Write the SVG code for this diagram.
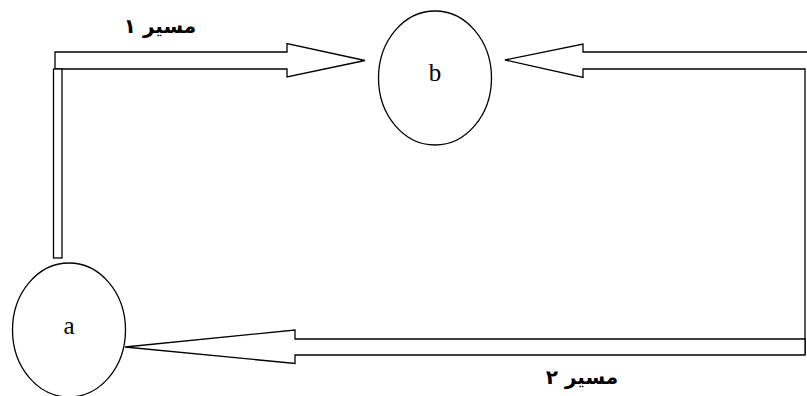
<svg xmlns="http://www.w3.org/2000/svg" width="807" height="396" viewBox="0 0 807 396">
<style>
.node{fill:#fff;stroke:#000;stroke-width:1.3}
.conn{fill:#fff;stroke:#000;stroke-width:1.3;stroke-linejoin:miter}
.lbl{font-family:"Liberation Serif",serif;font-size:25px;fill:#000;text-anchor:middle}
.fa{font-family:"DejaVu Sans","Noto Sans",sans-serif;font-weight:bold;font-size:20px;fill:#000;text-anchor:middle}
</style>
<rect width="807" height="396" fill="#fff"/>
<g id="connectors">
<path class="conn" d="M55,52 H287 V43.5 L365,60.5 L287,77 V69 H55 Z"/>
<rect class="conn" x="53.5" y="69" width="8.5" height="189"/>
<path class="conn" d="M808,52 H583 V44 L505,60 L583,77.5 V69 H805 V355"/>
<path class="conn" d="M805,339 H295 V330 L125,347 L295,363.5 V355 H805 Z"/>
</g>
<g id="node-b">
<ellipse class="node" cx="435" cy="78" rx="56.5" ry="67"/>
<text class="lbl" x="435" y="81">b</text>
</g>
<g id="node-a">
<ellipse class="node" cx="69" cy="330" rx="56.5" ry="67"/>
<text class="lbl" x="69" y="334">a</text>
</g>
<g id="labels">
<text class="fa" x="160" y="33" direction="rtl">مسیر ۱</text>
<text class="fa" x="582" y="384" direction="rtl">مسیر ۲</text>
</g>
</svg>
